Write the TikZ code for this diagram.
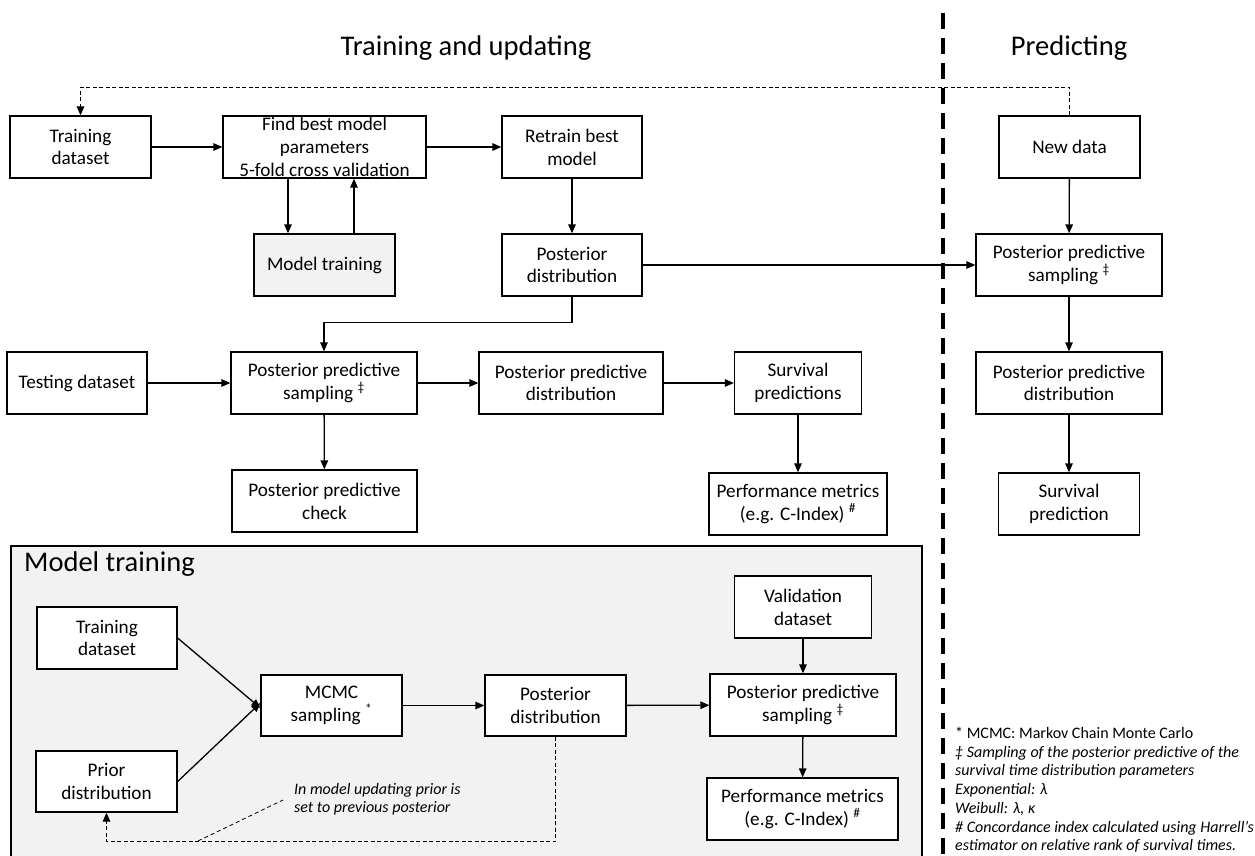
\documentclass[tikz,border=0pt]{standalone}
\usepackage{fontspec}
\setmainfont{Carlito}
\usetikzlibrary{arrows.meta}
\definecolor{panelgray}{HTML}{F2F2F2}
\begin{document}
\begin{tikzpicture}[x=1pt,y=-1pt,
  box/.style={draw,line width=1.3pt,fill=white,inner sep=0pt,align=center,
    font=\fontsize{19.2}{22.8}\selectfont},
  graybox/.style={box,fill=panelgray},
  arr/.style={line width=1.3pt,-{Triangle[length=9pt,width=7.5pt]}},
  dasharr/.style={arr,dash pattern=on 4pt off 2.5pt},
  leader/.style={line width=0.8pt,dash pattern=on 4pt off 3pt},
  title/.style={inner sep=0pt,font=\fontsize{28.5}{34}\selectfont},
  note/.style={inner sep=0pt,align=left,font=\fontsize{16}{18.7}\selectfont},
]
\useasboundingbox (0,0) rectangle (1255,856);

% model training panel
\fill[panelgray] (11,546) rectangle (922,860);
\draw[line width=1.3pt] (11,860) -- (11,546) -- (922,546) -- (922,860);

% divider
\draw[line width=4.2pt,dash pattern=on 16pt off 9pt] (943,13) -- (943,860);

% titles
\node[title] (t1) at (466,48) {Training and updating};
\node[title] (t2) at (1069,48) {Predicting};
\node[title,anchor=west] (t3) at (24,564) {Model training};

% top part
\node[box,minimum width=141pt,minimum height=62pt] (tds) at (80.5,147) {Training\\dataset};
\node[box,minimum width=203pt,minimum height=62pt] (fbm) at (324.5,147) {Find best model\\parameters\\5-fold cross validation};
\node[box,minimum width=140pt,minimum height=62pt] (rbm) at (572,147) {Retrain best\\model};
\node[box,minimum width=141pt,minimum height=62pt] (nd) at (1069.5,147) {New data};

\node[graybox,minimum width=141pt,minimum height=62pt] (mt) at (324.5,265) {Model training};
\node[box,minimum width=140pt,minimum height=62pt] (pd) at (572,265) {Posterior\\distribution};
\node[box,minimum width=186pt,minimum height=62pt] (pps2) at (1069,265) {Posterior predictive\\sampling \textsuperscript{‡}};

\node[box,minimum width=140pt,minimum height=62pt] (tsd) at (77,383) {Testing dataset};
\node[box,minimum width=186pt,minimum height=62pt] (pps) at (324,383) {Posterior predictive\\sampling \textsuperscript{‡}};
\node[box,minimum width=184pt,minimum height=62pt] (ppd) at (571,383) {Posterior predictive\\distribution};
\node[box,minimum width=127pt,minimum height=62pt] (sp) at (798,383) {Survival\\predictions};
\node[box,minimum width=186pt,minimum height=62pt] (ppd2) at (1069,383) {Posterior predictive\\distribution};

\node[box,minimum width=185pt,minimum height=62pt] (ppc) at (324.5,501) {Posterior predictive\\check};
\node[box,minimum width=178pt,minimum height=62pt] (pm) at (798,504) {Performance metrics\\(e.g. C-Index) \textsuperscript{\#}};
\node[box,minimum width=141pt,minimum height=62pt] (spr) at (1069,504) {Survival\\prediction};

% top connectors
\draw[arr] (tds) -- (fbm);
\draw[arr] (fbm) -- (rbm);
\draw[arr] ([xshift=-36.5pt]fbm.south) -- ([xshift=-36.5pt]fbm.south |- mt.north);
\draw[arr] ([xshift=29.5pt]mt.north) -- ([xshift=29.5pt]mt.north |- fbm.south);
\draw[arr] (rbm) -- (pd);
\draw[arr] (pd) -- (pps2);
\draw[arr] (nd) -- (pps2);
\draw[arr] (pps2) -- (ppd2);
\draw[arr] (ppd2) -- (spr);
\draw[arr] (pd.south) -- ++(0,26) -| (pps.north);
\draw[arr] (tsd) -- (pps);
\draw[arr] (pps) -- (ppd);
\draw[arr] (ppd) -- (sp);
\draw[arr] (pps) -- (ppc);
\draw[arr] (sp) -- (pm);
\draw[dasharr] (nd.north) -- ++(0,-28) -| (tds.north);

% inner nodes
\node[box,minimum width=140pt,minimum height=62pt] (itds) at (107,638) {Training\\dataset};
\node[box,minimum width=141pt,minimum height=61pt] (prior) at (106.5,781.5) {Prior\\distribution};
\node[box,minimum width=141pt,minimum height=61pt] (mcmc) at (331.5,705.5) {MCMC\\sampling \textsuperscript{*}};
\node[box,minimum width=141pt,minimum height=61pt] (ipd) at (555.5,705.5) {Posterior\\distribution};
\node[box,minimum width=137pt,minimum height=62pt] (val) at (803,607) {Validation\\dataset};
\node[box,minimum width=186pt,minimum height=62pt] (ipps) at (803,705) {Posterior predictive\\sampling \textsuperscript{‡}};
\node[box,minimum width=191pt,minimum height=62pt] (ipm) at (802.5,809) {Performance metrics\\(e.g. C-Index) \textsuperscript{\#}};

\draw[arr] (itds.east) -- ([yshift=-2.5pt]mcmc.west);
\draw[arr] (prior.east) -- ([yshift=2.5pt]mcmc.west);
\draw[arr] (mcmc) -- (ipd);
\draw[arr] (ipd) -- (ipps);
\draw[arr] (val) -- (ipps);
\draw[arr] (ipps) -- (ipm);
\draw[dasharr] (ipd.south) -- ++(0,105) -| (prior.south);

% annotation
\node[note,anchor=west,font=\fontsize{16}{18.3}\selectfont\itshape] (ann) at (294,799) {In model updating prior is\\set to previous posterior};
\coordinate (la) at (198,841);
\draw[leader] (la) -- ([xshift=-11pt,yshift=-1pt]ann.west);

% footnotes
\node[note,anchor=north west] (fn) at (955,727) {* MCMC: Markov Chain Monte Carlo\\
\textit{‡ Sampling of the posterior predictive of the}\\
\textit{survival time distribution parameters}\\
\textit{Exponential: λ}\\
\textit{Weibull: λ, κ}\\
\textit{\# Concordance index calculated using Harrell's}\\
\textit{estimator on relative rank of survival times.}};
\end{tikzpicture}
\end{document}
